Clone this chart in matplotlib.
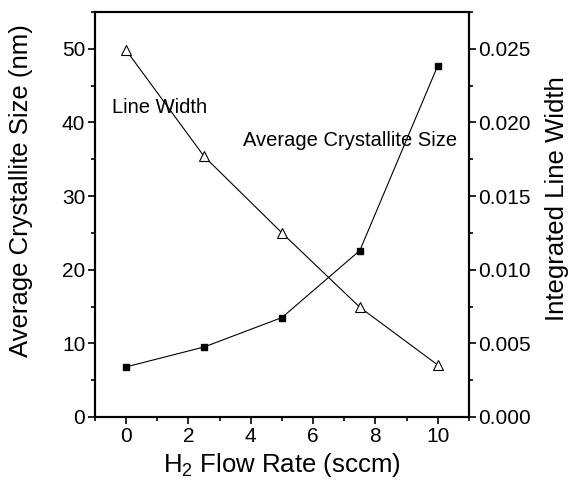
import matplotlib
matplotlib.use("Agg")
import matplotlib.pyplot as plt
from matplotlib.ticker import MultipleLocator, FormatStrFormatter

plt.rcParams['font.family'] = ['Liberation Sans', 'DejaVu Sans']
plt.rcParams['mathtext.fontset'] = 'custom'
plt.rcParams['mathtext.rm'] = 'Liberation Sans'

flow = [0, 2.5, 5, 7.5, 10]
crystallite_size = [6.8, 9.5, 13.5, 22.6, 47.7]
line_width = [0.0249, 0.0177, 0.0125, 0.00745, 0.00353]

fig = plt.figure(figsize=(5.69, 4.82), dpi=100)
ax = fig.add_axes([0.167, 0.135, 0.657, 0.84])
ax2 = ax.twinx()

ax.plot(flow, crystallite_size, color='black', lw=0.8, marker='s', ms=5,
        mfc='black', mec='black')
ax2.plot(flow, line_width, color='black', lw=0.8, marker='^', ms=6.5,
         mfc='white', mec='black', mew=0.8)

ax.set_xlim(-1, 11)
ax.set_ylim(0, 55)
ax2.set_ylim(0, 0.0275)

ax.xaxis.set_major_locator(MultipleLocator(2))
ax.xaxis.set_minor_locator(MultipleLocator(1))
ax.yaxis.set_major_locator(MultipleLocator(10))
ax.yaxis.set_minor_locator(MultipleLocator(5))
ax2.yaxis.set_major_locator(MultipleLocator(0.005))
ax2.yaxis.set_minor_locator(MultipleLocator(0.0025))
ax2.yaxis.set_major_formatter(FormatStrFormatter('%.3f'))

for a in (ax, ax2):
    a.tick_params(which='major', direction='out', length=5, width=1.2,
                  labelsize=15, pad=2)
    a.tick_params(which='minor', direction='out', length=3, width=1.2)
    for s in a.spines.values():
        s.set_linewidth(1.5)

ax.set_xlabel('H$_\\mathregular{2}$ Flow Rate (sccm)', fontsize=18.5, labelpad=4)
ax.set_ylabel('Average Crystallite Size (nm)', fontsize=18.5)
ax2.set_ylabel('Integrated Line Width', fontsize=18.5)
ax.yaxis.set_label_coords(-0.166, 0.558)
ax2.yaxis.set_label_coords(1.203, 0.54)

ax.text(-0.45, 42.1, 'Line Width', fontsize=14.5, va='center', ha='left')
ax.text(3.75, 37.6, 'Average Crystallite Size', fontsize=14.5, va='center', ha='left')

fig.savefig('out.png', dpi=100)
